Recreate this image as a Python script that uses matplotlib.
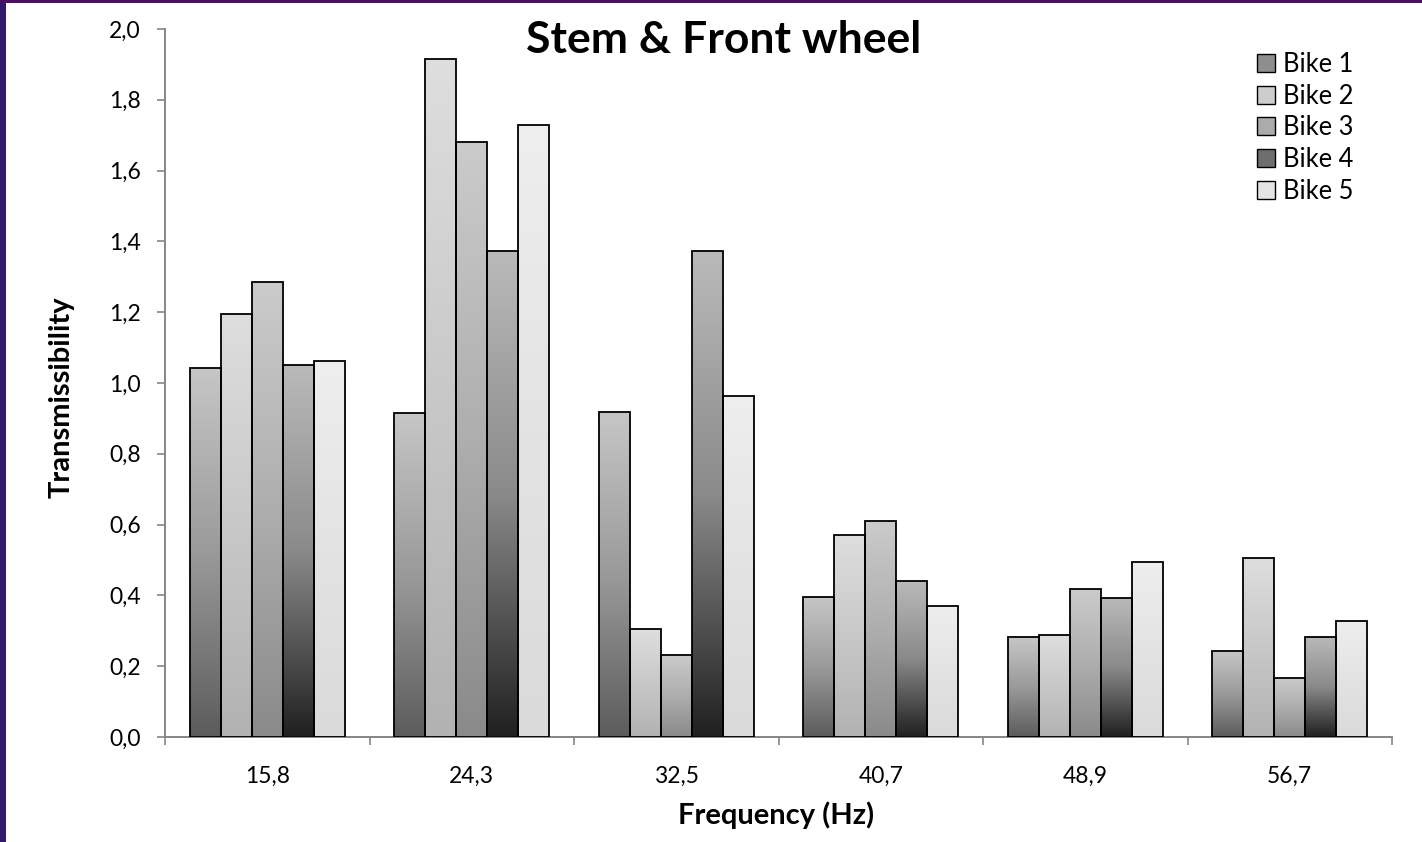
import numpy as np
import matplotlib
matplotlib.use("Agg")
import matplotlib.pyplot as plt
from matplotlib.colors import LinearSegmentedColormap
from matplotlib.patches import Rectangle, Patch

plt.rcParams['font.family'] = ['Lato', 'DejaVu Sans']

# données
frequencies = ["15,8", "24,3", "32,5", "40,7", "48,9", "56,7"]
bikes = ["Bike 1", "Bike 2", "Bike 3", "Bike 4", "Bike 5"]
bike1 = [1.041, 0.915, 0.918, 0.395, 0.282, 0.242]
bike2 = [1.196, 1.914, 0.304, 0.572, 0.287, 0.507]
bike3 = [1.285, 1.681, 0.233, 0.611, 0.418, 0.168]
bike4 = [1.050, 1.373, 1.372, 0.441, 0.394, 0.283]
bike5 = [1.062, 1.728, 0.963, 0.369, 0.494, 0.328]
series = [bike1, bike2, bike3, bike4, bike5]
yticks = [0.0, 0.2, 0.4, 0.6, 0.8, 1.0, 1.2, 1.4, 1.6, 1.8, 2.0]

# dégradés (bas -> haut) pour chaque vélo
gradients = [
    ["#5c5c5c", "#9a9a9a", "#c6c6c6"],
    ["#b2b2b2", "#c8c8c8", "#dedede"],
    ["#8a8a8a", "#aeaeae", "#cbcbcb"],
    ["#202020", "#8a8a8a", "#bababa"],
    ["#dadada", "#e3e3e3", "#eeeeee"],
]
legend_colors = ["#8e8e8e", "#cdcdcd", "#ababab", "#6e6e6e", "#e4e4e4"]

fig = plt.figure(figsize=(14.22, 8.42), dpi=100, facecolor="white")
# bords violets de la diapo
fig.patches.append(Rectangle((0, 0), 6 / 1422, 1, transform=fig.transFigure,
                             facecolor="#33196a", edgecolor="none", zorder=-1))
fig.patches.append(Rectangle((0, 1 - 3 / 842), 1, 3 / 842, transform=fig.transFigure,
                             facecolor="#48125e", edgecolor="none", zorder=-1))

ax = fig.add_axes([165 / 1422, 1 - 737 / 842, (1392 - 165) / 1422, (737 - 29) / 842])
ax.set_facecolor("none")

n_groups = len(frequencies)
n_bikes = len(bikes)
width = 1 / 6.6
x = np.arange(n_groups)
grad = np.linspace(0, 1, 256).reshape(-1, 1)

for i, vals in enumerate(series):
    offs = (i - (n_bikes - 1) / 2) * width
    cmap = LinearSegmentedColormap.from_list("b%d" % i, gradients[i])
    bars = ax.bar(x + offs, vals, width=width, facecolor="none", edgecolor="black",
                  linewidth=1.3, zorder=3)
    for b in bars:
        x0, y0 = b.get_x(), b.get_y()
        im = ax.imshow(grad, cmap=cmap, origin="lower", aspect="auto",
                       extent=(x0, x0 + b.get_width(), y0, y0 + b.get_height()), zorder=2)
        im.set_clip_path(b)

ax.set_xlim(-0.5, n_groups - 0.5)
ax.set_ylim(0, 2.0)
ax.set_yticks(yticks)
ax.set_yticklabels([("%.1f" % v).replace(".", ",") for v in yticks])
ax.set_xticks(x)
ax.set_xticklabels(frequencies)
ax.set_xticks(np.arange(-0.5, n_groups, 1), minor=True)
ax.tick_params(axis="x", which="major", length=0, pad=21, labelsize=16.5)
ax.tick_params(axis="x", which="minor", length=5.5, color="#868686", width=1.2)
ax.tick_params(axis="y", length=5.5, color="#868686", width=1.2, pad=12, labelsize=16.5)

for s in ["top", "right"]:
    ax.spines[s].set_visible(False)
for s in ["left", "bottom"]:
    ax.spines[s].set_color("#868686")
    ax.spines[s].set_linewidth(1.4)

ax.text(0.455, 0.984, "Stem & Front wheel", transform=ax.transAxes, ha="center",
        va="center", fontsize=32, fontweight="bold")
ax.set_xlabel("Frequency (Hz)", fontsize=21, fontweight="bold", va="center")
ax.xaxis.set_label_coords(0.498, -0.110)
ax.set_ylabel("Transmissibility", fontsize=21, fontweight="bold", va="center")
ax.yaxis.set_label_coords(-0.084, 0.48)

handles = [Patch(facecolor=c, edgecolor="black", linewidth=1.0) for c in legend_colors]
fig.legend(handles, bikes, loc="upper left", bbox_to_anchor=(1257 / 1422, 1 - 52 / 842),
           frameon=False, fontsize=18.4, handlelength=0.7, handleheight=0.7,
           handletextpad=0.3, labelspacing=0.26, borderpad=0, borderaxespad=0)

fig.savefig("out.png", dpi=100, facecolor=fig.get_facecolor())
